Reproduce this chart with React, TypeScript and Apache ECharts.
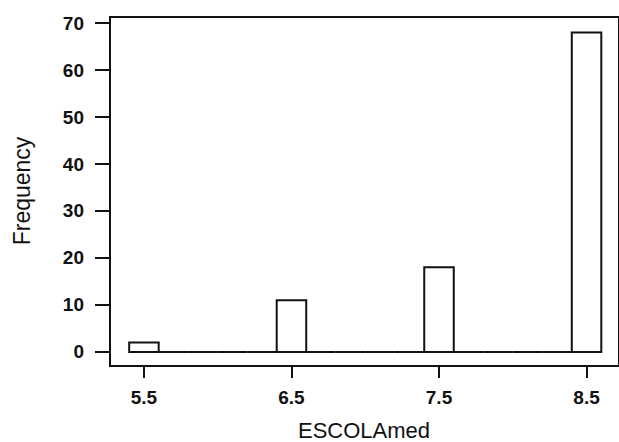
import React, { useEffect, useRef } from "react";
import * as echarts from "echarts";

const binStarts = [5.4, 5.6, 5.8, 6.0, 6.2, 6.4, 6.6, 6.8, 7.0, 7.2, 7.4, 7.6, 7.8, 8.0, 8.2, 8.4];
const binWidth = 0.2;
const counts = [2, 0, 0, 0, 0, 11, 0, 0, 0, 0, 18, 0, 0, 0, 0, 68];
const xTicks = [5.5, 6.5, 7.5, 8.5];
const yTicks = [0, 10, 20, 30, 40, 50, 60, 70];
const xTitle = "ESCOLAmed";
const yTitle = "Frequency";

export default function App() {
  const ref = useRef<HTMLDivElement>(null);
  useEffect(() => {
    document.body.style.margin = "0";
    if (!ref.current) return;
    const chart = echarts.init(ref.current, null, { renderer: "svg" });
    const data = binStarts.map((s, i) => [s, s + binWidth, counts[i]]);
    const ink = "#111";
    const labelFont = {
      color: ink,
      fontFamily: "Liberation Sans",
      fontWeight: "bold" as const,
      fontSize: 19,
    };
    chart.setOption({
      animation: false,
      backgroundColor: "#fff",
      grid: {
        left: 110,
        top: 17,
        width: 511,
        height: 349,
        show: true,
        borderColor: ink,
        borderWidth: 2,
        backgroundColor: "transparent",
      },
      xAxis: {
        type: "value",
        min: 5.27,
        max: 8.72,
        axisLine: { show: false, onZero: false },
        splitLine: { show: false },
        axisTick: {
          show: true,
          customValues: xTicks,
          length: 12,
          lineStyle: { color: ink, width: 2 },
        },
        axisLabel: {
          customValues: xTicks,
          margin: 22,
          ...labelFont,
          formatter: (v: number) => v.toFixed(1),
        },
      },
      yAxis: {
        type: "value",
        min: -3,
        max: 71.3,
        axisLine: { show: false, onZero: false },
        splitLine: { show: false },
        axisTick: {
          show: true,
          customValues: yTicks,
          length: 15,
          lineStyle: { color: ink, width: 2 },
        },
        axisLabel: {
          customValues: yTicks,
          margin: 26,
          ...labelFont,
        },
      },
      graphic: [
        {
          type: "text",
          x: 364,
          y: 430,
          style: {
            text: xTitle,
            align: "center",
            verticalAlign: "middle",
            fill: ink,
            font: "22px 'Liberation Sans'",
          },
        },
        {
          type: "text",
          x: 22,
          y: 191,
          rotation: Math.PI / 2,
          style: {
            text: yTitle,
            align: "center",
            verticalAlign: "middle",
            fill: ink,
            font: "23px 'Liberation Sans'",
          },
        },
      ],
      series: [
        {
          type: "custom",
          data,
          encode: { x: [0, 1], y: 2 },
          renderItem: (params: any, api: any) => {
            const p0 = api.coord([api.value(0), api.value(2)]);
            const p1 = api.coord([api.value(1), 0]);
            return {
              type: "rect",
              shape: { x: p0[0], y: p0[1], width: p1[0] - p0[0], height: p1[1] - p0[1] },
              style: { fill: "#fff", stroke: ink, lineWidth: 2 },
            };
          },
        },
      ],
    });
    return () => chart.dispose();
  }, []);
  return <div ref={ref} style={{ width: 619, height: 442 }} />;
}
